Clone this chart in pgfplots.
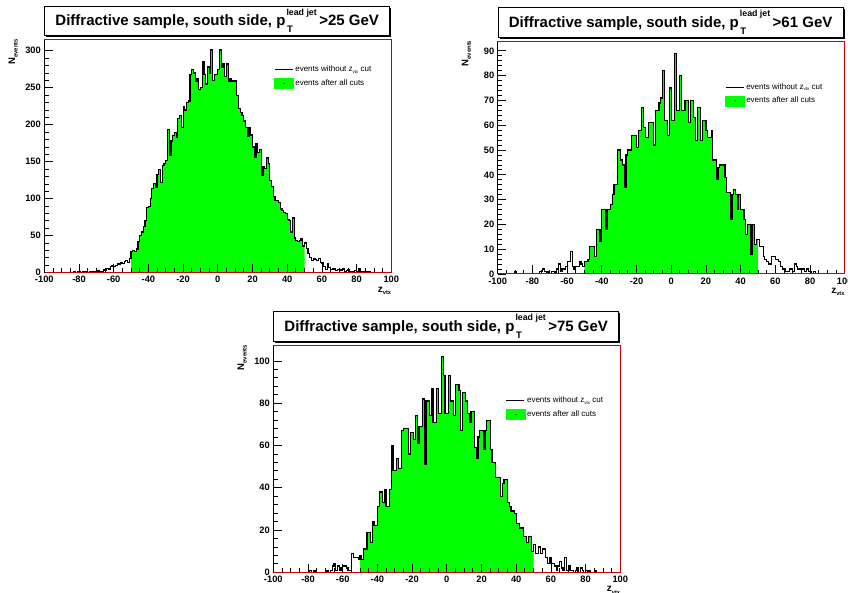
\documentclass[border=0pt]{standalone}
\usepackage{fontspec}
\setmainfont{Liberation Sans}
\usepackage{pgfplots}
\pgfplotsset{compat=1.18}
\usepackage{pgfplotstable}
\usetikzlibrary{shadows}

\definecolor{hgreen}{RGB}{0,255,0}
\definecolor{framered}{RGB}{204,0,0}

% z_vtx distributions, 1 cm bins (lower bin edge, entries)
\pgfplotstableread[row sep=\\]{
z n\\
-86 0\\ -85 0\\ -84 0\\ -83 1\\ -82 0\\ -81 1\\ -80 2\\ -79 0\\ -78 1\\ -77 0\\ -76 1\\ -75 0\\ -74 1\\ -73 2\\ -72 1\\ -71 2\\ -70 1\\ -69 3\\ -68 2\\ -67 1\\
-66 4\\ -65 3\\ -64 6\\ -63 5\\ -62 8\\ -61 9\\ -60 8\\ -59 10\\ -58 12\\ -57 11\\ -56 13\\ -55 12\\ -54 15\\ -53 17\\ -52 14\\ -51 19\\ -50 29\\ -49 30\\ -48 29\\ -47 32\\
-46 42\\ -45 50\\ -44 55\\ -43 62\\ -42 70\\ -41 88\\ -40 90\\ -39 100\\ -38 114\\ -37 121\\ -36 115\\ -35 133\\ -34 140\\ -33 122\\ -32 145\\ -31 148\\ -30 152\\ -29 193\\ -28 158\\ -27 178\\
-26 185\\ -25 190\\ -24 183\\ -23 208\\ -22 212\\ -21 196\\ -20 225\\ -19 220\\ -18 230\\ -17 232\\ -16 268\\ -15 275\\ -14 270\\ -13 258\\ -12 262\\ -11 248\\ -10 250\\ -9 285\\ -8 268\\ -7 255\\
-6 278\\ -5 270\\ -4 301\\ -3 260\\ -2 268\\ -1 268\\ 0 275\\ 1 301\\ 2 278\\ 3 283\\ 4 265\\ 5 282\\ 6 258\\ 7 262\\ 8 259\\ 9 259\\ 10 259\\ 11 240\\ 12 222\\ 13 217\\
14 212\\ 15 205\\ 16 196\\ 17 184\\ 18 196\\ 19 186\\ 20 170\\ 21 156\\ 22 174\\ 23 162\\ 24 166\\ 25 132\\ 26 143\\ 27 141\\ 28 155\\ 29 148\\ 30 125\\ 31 116\\ 32 103\\ 33 98\\
34 98\\ 35 95\\ 36 86\\ 37 84\\ 38 81\\ 39 80\\ 40 72\\ 41 70\\ 42 55\\ 43 74\\ 44 47\\ 45 44\\ 46 42\\ 47 43\\ 48 46\\ 49 36\\ 50 40\\ 51 33\\ 52 26\\ 53 20\\
54 17\\ 55 19\\ 56 18\\ 57 17\\ 58 19\\ 59 14\\ 60 13\\ 61 8\\ 62 4\\ 63 12\\ 64 7\\ 65 4\\ 66 5\\ 67 6\\ 68 3\\ 69 4\\ 70 4\\ 71 3\\ 72 5\\ 73 2\\
74 3\\ 75 4\\ 76 2\\ 77 1\\ 78 2\\ 79 3\\ 80 2\\ 81 6\\ 82 1\\ 83 2\\ 84 1\\ 85 1\\ 86 0\\ 87 1\\ 88 0\\ 89 0\\ 90 0\\
}\histA

\pgfplotstableread[row sep=\\]{
z n\\
-92 0\\ -91 0\\ -90 1\\ -89 0\\ -88 0\\ -87 0\\ -86 0\\ -85 0\\ -84 0\\ -83 0\\ -82 0\\ -81 0\\ -80 0\\ -79 0\\ -78 0\\ -77 0\\ -76 1\\ -75 1\\ -74 2\\ -73 1\\
-72 0\\ -71 1\\ -70 0\\ -69 1\\ -68 1\\ -67 0\\ -66 2\\ -65 4\\ -64 1\\ -63 2\\ -62 2\\ -61 3\\ -60 5\\ -59 5\\ -58 9\\ -57 3\\ -56 2\\ -55 3\\ -54 3\\ -53 5\\
-52 4\\ -51 3\\ -50 5\\ -49 5\\ -48 6\\ -47 11\\ -46 11\\ -45 11\\ -44 7\\ -43 18\\ -42 18\\ -41 13\\ -40 26\\ -39 26\\ -38 18\\ -37 26\\ -36 26\\ -35 28\\ -34 32\\ -33 36\\
-32 36\\ -31 50\\ -30 50\\ -29 46\\ -28 44\\ -27 35\\ -26 48\\ -25 50\\ -24 50\\ -23 56\\ -22 56\\ -21 56\\ -20 51\\ -19 58\\ -18 58\\ -17 67\\ -16 59\\ -15 55\\ -14 55\\ -13 61\\
-12 61\\ -11 61\\ -10 52\\ -9 66\\ -8 66\\ -7 69\\ -6 71\\ -5 82\\ -4 62\\ -3 62\\ -2 56\\ -1 75\\ 0 62\\ 1 62\\ 2 89\\ 3 66\\ 4 66\\ 5 80\\ 6 66\\ 7 66\\
8 70\\ 9 70\\ 10 61\\ 11 70\\ 12 70\\ 13 63\\ 14 54\\ 15 67\\ 16 67\\ 17 54\\ 18 62\\ 19 62\\ 20 58\\ 21 55\\ 22 55\\ 23 58\\ 24 46\\ 25 46\\ 26 38\\ 27 43\\
28 44\\ 29 44\\ 30 44\\ 31 39\\ 32 33\\ 33 33\\ 34 22\\ 35 32\\ 36 34\\ 37 32\\ 38 26\\ 39 32\\ 40 26\\ 41 26\\ 42 22\\ 43 16\\ 44 20\\ 45 20\\ 46 8\\ 47 20\\
48 12\\ 49 14\\ 50 14\\ 51 11\\ 52 11\\ 53 7\\ 54 6\\ 55 5\\ 56 4\\ 57 4\\ 58 7\\ 59 7\\ 60 6\\ 61 6\\ 62 5\\ 63 3\\ 64 2\\ 65 2\\ 66 1\\ 67 1\\
68 2\\ 69 2\\ 70 1\\ 71 4\\ 72 3\\ 73 2\\ 74 2\\ 75 2\\ 76 2\\ 77 1\\ 78 2\\ 79 1\\ 80 1\\ 81 0\\ 82 1\\ 83 0\\ 84 0\\
}\histB

\pgfplotstableread[row sep=\\]{
z n\\
-82 0\\ -81 0\\ -80 0\\ -79 1\\ -78 0\\ -77 1\\ -76 0\\ -75 0\\ -74 0\\ -73 0\\ -72 0\\ -71 0\\ -70 0\\ -69 1\\ -68 0\\ -67 1\\ -66 3\\ -65 4\\ -64 1\\ -63 3\\
-62 1\\ -61 2\\ -60 3\\ -59 3\\ -58 2\\ -57 1\\ -56 1\\ -55 9\\ -54 7\\ -53 7\\ -52 7\\ -51 6\\ -50 8\\ -49 6\\ -48 11\\ -47 11\\ -46 19\\ -45 19\\ -44 14\\ -43 24\\
-42 22\\ -41 22\\ -40 31\\ -39 38\\ -38 38\\ -37 33\\ -36 39\\ -35 31\\ -34 31\\ -33 39\\ -32 60\\ -31 48\\ -30 48\\ -29 54\\ -28 49\\ -27 49\\ -26 67\\ -25 68\\ -24 68\\ -23 68\\
-22 56\\ -21 66\\ -20 66\\ -19 63\\ -18 74\\ -17 61\\ -16 69\\ -15 69\\ -14 82\\ -13 51\\ -12 81\\ -11 81\\ -10 74\\ -9 87\\ -8 71\\ -7 71\\ -6 87\\ -5 75\\ -4 75\\ -3 102\\
-2 93\\ -1 75\\ 0 75\\ 1 93\\ 2 81\\ 3 81\\ 4 74\\ 5 89\\ 6 89\\ 7 86\\ 8 67\\ 9 85\\ 10 85\\ 11 81\\ 12 75\\ 13 71\\ 14 76\\ 15 76\\ 16 59\\ 17 54\\
18 64\\ 19 67\\ 20 67\\ 21 58\\ 22 67\\ 23 72\\ 24 72\\ 25 58\\ 26 52\\ 27 52\\ 28 45\\ 29 45\\ 30 45\\ 31 36\\ 32 42\\ 33 44\\ 34 44\\ 35 33\\ 36 31\\ 37 29\\
38 29\\ 39 28\\ 40 23\\ 41 23\\ 42 21\\ 43 21\\ 44 17\\ 45 17\\ 46 14\\ 47 17\\ 48 17\\ 49 10\\ 50 13\\ 51 9\\ 52 9\\ 53 12\\ 54 9\\ 55 11\\ 56 11\\ 57 7\\
58 4\\ 59 7\\ 60 4\\ 61 4\\ 62 3\\ 63 1\\ 64 3\\ 65 5\\ 66 2\\ 67 1\\ 68 7\\ 69 1\\ 70 3\\ 71 1\\ 72 1\\ 73 0\\ 74 1\\ 75 2\\ 76 0\\ 77 2\\
78 1\\ 79 0\\ 80 1\\ 81 0\\ 82 1\\ 83 0\\ 84 0\\ 85 1\\ 86 0\\ 87 0\\
}\histC

\newcommand{\ttl}[1]{Diffractive sample, south side, p\rlap{\raisebox{-7.3pt}{\fontsize{9.5}{10}\selectfont\hspace{1.5pt}T}}\raisebox{10.6pt}{\fontsize{8.8}{9}\selectfont\hspace{1pt}lead jet}\hspace{2.5pt}>#1 GeV}

\pgfplotsset{
  rootpanel/.style={
    scale only axis, width=347pt,
    xmin=-100, xmax=100, ymin=0,
    xtick={-100,-80,...,100}, minor x tick num=3,
    minor y tick num=4,
    tick align=inside, xtick pos=left, ytick pos=left,
    major tick length=8.5pt, minor tick length=4.3pt,
    tick style={black, line width=0.8pt},
    axis line style={framered, line width=1pt},
    axis on top,
    ticklabel style={font=\fontsize{9.3}{10}\selectfont\bfseries},
    /pgf/number format/assume math mode=true,
    /pgf/number format/1000 sep={},
    every axis title shift=0pt,
    title style={at={(0,1)}, anchor=south west, yshift=4pt, draw=black,
      line width=0.8pt, fill=white, minimum width=345pt, minimum height=29.5pt,
      inner sep=0pt,
      drop shadow={shadow xshift=1.6pt, shadow yshift=-1.6pt, opacity=1, fill=black},
      font=\fontsize{15}{17}\selectfont\bfseries},
    xlabel={\fontsize{10}{11}\selectfont\bfseries z\raisebox{-2.5pt}{\fontsize{5.7}{6}\selectfont vtx}},
    xlabel style={at={(axis description cs:1,0)}, anchor=north east, inner sep=0pt, yshift=-14pt},
    ylabel={\fontsize{9.5}{10}\selectfont\bfseries N\raisebox{-2.5pt}{\fontsize{5.9}{6}\selectfont events}},
    ylabel style={at={(axis description cs:-0.09,1.005)}, anchor=east, inner sep=0pt},
    legend cell align=left,
    legend style={draw=none, fill=none, anchor=north west,
      font=\fontsize{8}{9}\selectfont, row sep=3.5pt, inner sep=0pt,
      nodes={inner sep=1.5pt}},
  },
  lineentry/.style={legend image code/.code={\draw[black, line width=0.8pt] (0pt,0pt) -- (18pt,0pt);}},
  boxentry/.style={legend image code/.code={\fill[hgreen] (0pt,-5pt) rectangle (19pt,5pt); \fill[black] (9.5pt,0pt) circle (0.35pt);}},
}

\newcommand{\legendrows}{%
  \addlegendimage{lineentry}
  \addlegendentry{events without z\raisebox{-1.5pt}{\fontsize{4.5}{5}\selectfont vtx} cut}
  \addlegendimage{boxentry}
  \addlegendentry{events after all cuts}
}

\begin{document}
\begin{tikzpicture}[x=1pt, y=1pt]
\path[use as bounding box] (0,0) rectangle (848,593);

% pT > 25 GeV
\begin{axis}[rootpanel, name=pa, at={(44.3pt,320.3pt)}, anchor=south west,
  height=232.7pt, ymax=314.5, ytick={0,50,...,300},
  title={\ttl{25}},
  legend style={at={(axis description cs:0.662,0.895)}}]
\addplot[fill=hgreen, draw=none, const plot, forget plot, restrict x to domain=-50:50] table {\histA} \closedcycle;
\addplot[black, line width=1.2pt, const plot, forget plot] table {\histA};
\legendrows
\end{axis}
\draw[black, line width=1pt] (pa.south west) -- (pa.north west);

% pT > 61 GeV
\begin{axis}[rootpanel, name=pb, at={(497.7pt,319pt)}, anchor=south west,
  height=232.3pt, ymax=93.7, ytick={0,10,...,90},
  title={\ttl{61}},
  legend style={at={(axis description cs:0.655,0.828)}}]
\addplot[fill=hgreen, draw=none, const plot, forget plot, restrict x to domain=-50:50] table {\histB} \closedcycle;
\addplot[black, line width=1.2pt, const plot, forget plot] table {\histB};
\legendrows
\end{axis}
\draw[black, line width=1pt] (pb.south west) -- (pb.north west);

% pT > 75 GeV
\begin{axis}[rootpanel, name=pc, at={(273.3pt,20.7pt)}, anchor=south west,
  height=226.6pt, ymax=107.2, ytick={0,20,...,100},
  title={\ttl{75}},
  legend style={at={(axis description cs:0.670,0.781)}}]
\addplot[fill=hgreen, draw=none, const plot, forget plot, restrict x to domain=-50:50] table {\histC} \closedcycle;
\addplot[black, line width=1.2pt, const plot, forget plot] table {\histC};
\legendrows
\end{axis}
\draw[black, line width=1pt] (pc.south west) -- (pc.north west);
\end{tikzpicture}
\end{document}
